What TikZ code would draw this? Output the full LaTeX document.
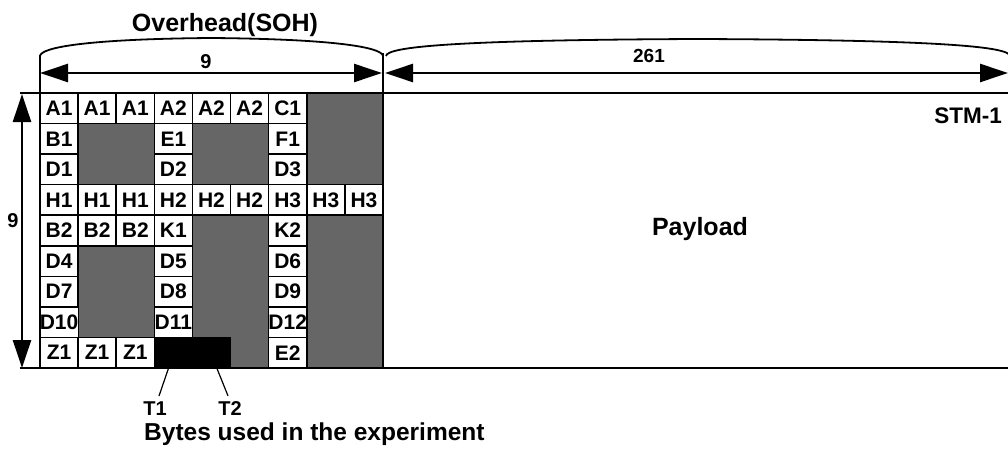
\documentclass[tikz,border=0pt]{standalone}
\usepackage{fontspec}
\setmainfont{Liberation Sans}
\usepackage{tikz}
\usetikzlibrary{arrows.meta,positioning,calc}
\newcommand{\colW}{38.11}
\newcommand{\rowH}{30.56}
\def\unusedByte{-}
\def\testByte{*}
\tikzset {
    byte/.style={draw, line width=1.6pt, fill=white, minimum width=\colW pt,
        minimum height=\rowH pt, inner sep=0pt,
        font=\bfseries\fontsize{21}{21}\selectfont},
    testbyte/.style={draw, fill=black, line width=1pt,
        minimum width=\colW pt, minimum height=\rowH pt, inner sep=0pt},
    unusedarea/.style={fill=black!60, minimum width=9*\colW pt,
        minimum height=9*\rowH pt, inner sep=0pt},
    txt/.style={inner sep=1pt, font=\bfseries\fontsize{20}{20}\selectfont},
    dimension/.style={line width=2.5pt,
        {Triangle[length=28pt,width=18pt]}-{Triangle[length=28pt,width=18pt]}},
    frame/.style={line width=2pt},
    brace/.style={line width=1.8pt},
    >=Latex
}
\begin{document}
\begin{tikzpicture}[x=1pt, y=-1pt,
        pointer/.style={line width=1.2pt},
        extension/.style={line width=1.2pt},
    ]
        \useasboundingbox (0,0) rectangle (1008,452);

        \node[unusedarea] (soh) at ({40+4.5*\colW}, {93+4.5*\rowH}) {};

        \foreach \rowBytes [count=\r] in {
            {A1,A1,A1,A2,A2,A2,C1,-,-},
            {B1,-,-,E1,-,-,F1,-,-},
            {D1,-,-,D2,-,-,D3,-,-},
            {H1,H1,H1,H2,H2,H2,H3,H3,H3},
            {B2,B2,B2,K1,-,-,K2,-,-},
            {D4,-,-,D5,-,-,D6,-,-},
            {D7,-,-,D8,-,-,D9,-,-},
            {D10,-,-,D11,-,-,D12,-,-},
            {Z1,Z1,Z1,*,*,-,E2,-,-}%
        }{
            \foreach \lbl [count=\c] in \rowBytes {
                \edef\cur{\lbl}
                \ifx\cur\unusedByte\else
                    \ifx\cur\testByte
                        \node[testbyte] (byte-\r-\c)
                            at ({40+(\c-0.5)*\colW}, {93+(\r-0.5)*\rowH}) {};
                    \else
                        \node[byte] (byte-\r-\c)
                            at ({40+(\c-0.5)*\colW}, {93+(\r-0.5)*\rowH}) {\lbl};
                    \fi
                \fi
            }
        }

        \coordinate (frameTL) at (20,93);
        \coordinate (frameTR) at (1008,93);
        \coordinate (frameBL) at (20,368);
        \coordinate (frameBR) at (1008,368);
        \coordinate (sohTop) at (40,55);
        \coordinate (sohBottom) at (40,368);
        \coordinate (payTop) at (383,53);
        \coordinate (payBottom) at (383,368);

        \coordinate (sohLeft) at (40,73);
        \coordinate (sohRight) at (382,73);
        \coordinate (payLeft) at (385,73);
        \coordinate (payRight) at (1008,73);
        \coordinate (rowsTop) at (22,94);
        \coordinate (rowsBottom) at (22,368);

        \coordinate (sohBraceL) at (40,56);
        \coordinate (sohBraceR) at (383,56);
        \coordinate (payBraceL) at (386,56);
        \coordinate (payBraceR) at (1010,56);

        \draw[frame] (frameTL) -- (frameTR);
        \draw[frame] (frameBL) -- (frameBR);
        \draw[extension] (sohTop) -- (sohBottom);
        \draw[extension] (payTop) -- (payBottom);

        \draw[brace] (sohBraceL) .. controls (41,47) and (90,39) .. (211,38)
            .. controls (332,39) and (382,47) .. (sohBraceR);
        \draw[brace] (payBraceL) .. controls (387,47) and (450,40) .. (698,39)
            .. controls (946,40) and (1009,47) .. (payBraceR);

        \draw[dimension] (sohLeft) -- (sohRight);
        \draw[dimension] (payLeft) -- (payRight);
        \draw[dimension] (rowsTop) -- (rowsBottom);

        \node[txt, anchor=base, font=\bfseries\fontsize{25}{25}\selectfont] (overhead)
            at (225,32) {Overhead(SOH)};
        \node[txt, anchor=base] (sohCols) at (206,68) {9};
        \node[txt, anchor=base, font=\bfseries\fontsize{19}{19}\selectfont] (payCols)
            at (649,63) {261};
        \node[txt, anchor=base] (rows) at (13,227) {9};
        \node[txt, anchor=base east, font=\bfseries\fontsize{22.5}{22.5}\selectfont] (stm)
            at (1003,123) {STM-1};
        \node[txt, anchor=base, font=\bfseries\fontsize{25}{25}\selectfont] (payload)
            at (700,235) {Payload};

        \node[txt, anchor=base] (t1) at (155,415) {T1};
        \node[txt, anchor=base] (t2) at (230,415) {T2};
        \node[txt, anchor=base west, font=\bfseries\fontsize{24.5}{24.5}\selectfont] (bytesUsed)
            at (143,440) {Bytes used in the experiment};

        \draw[pointer] ([xshift=-5pt]byte-9-4.south) -- ([xshift=4pt, yshift=4pt]t1.north);
        \draw[pointer] ([xshift=5.5pt]byte-9-5.south) -- ([xshift=-2pt, yshift=4pt]t2.north);

    \end{tikzpicture}
\end{document}
